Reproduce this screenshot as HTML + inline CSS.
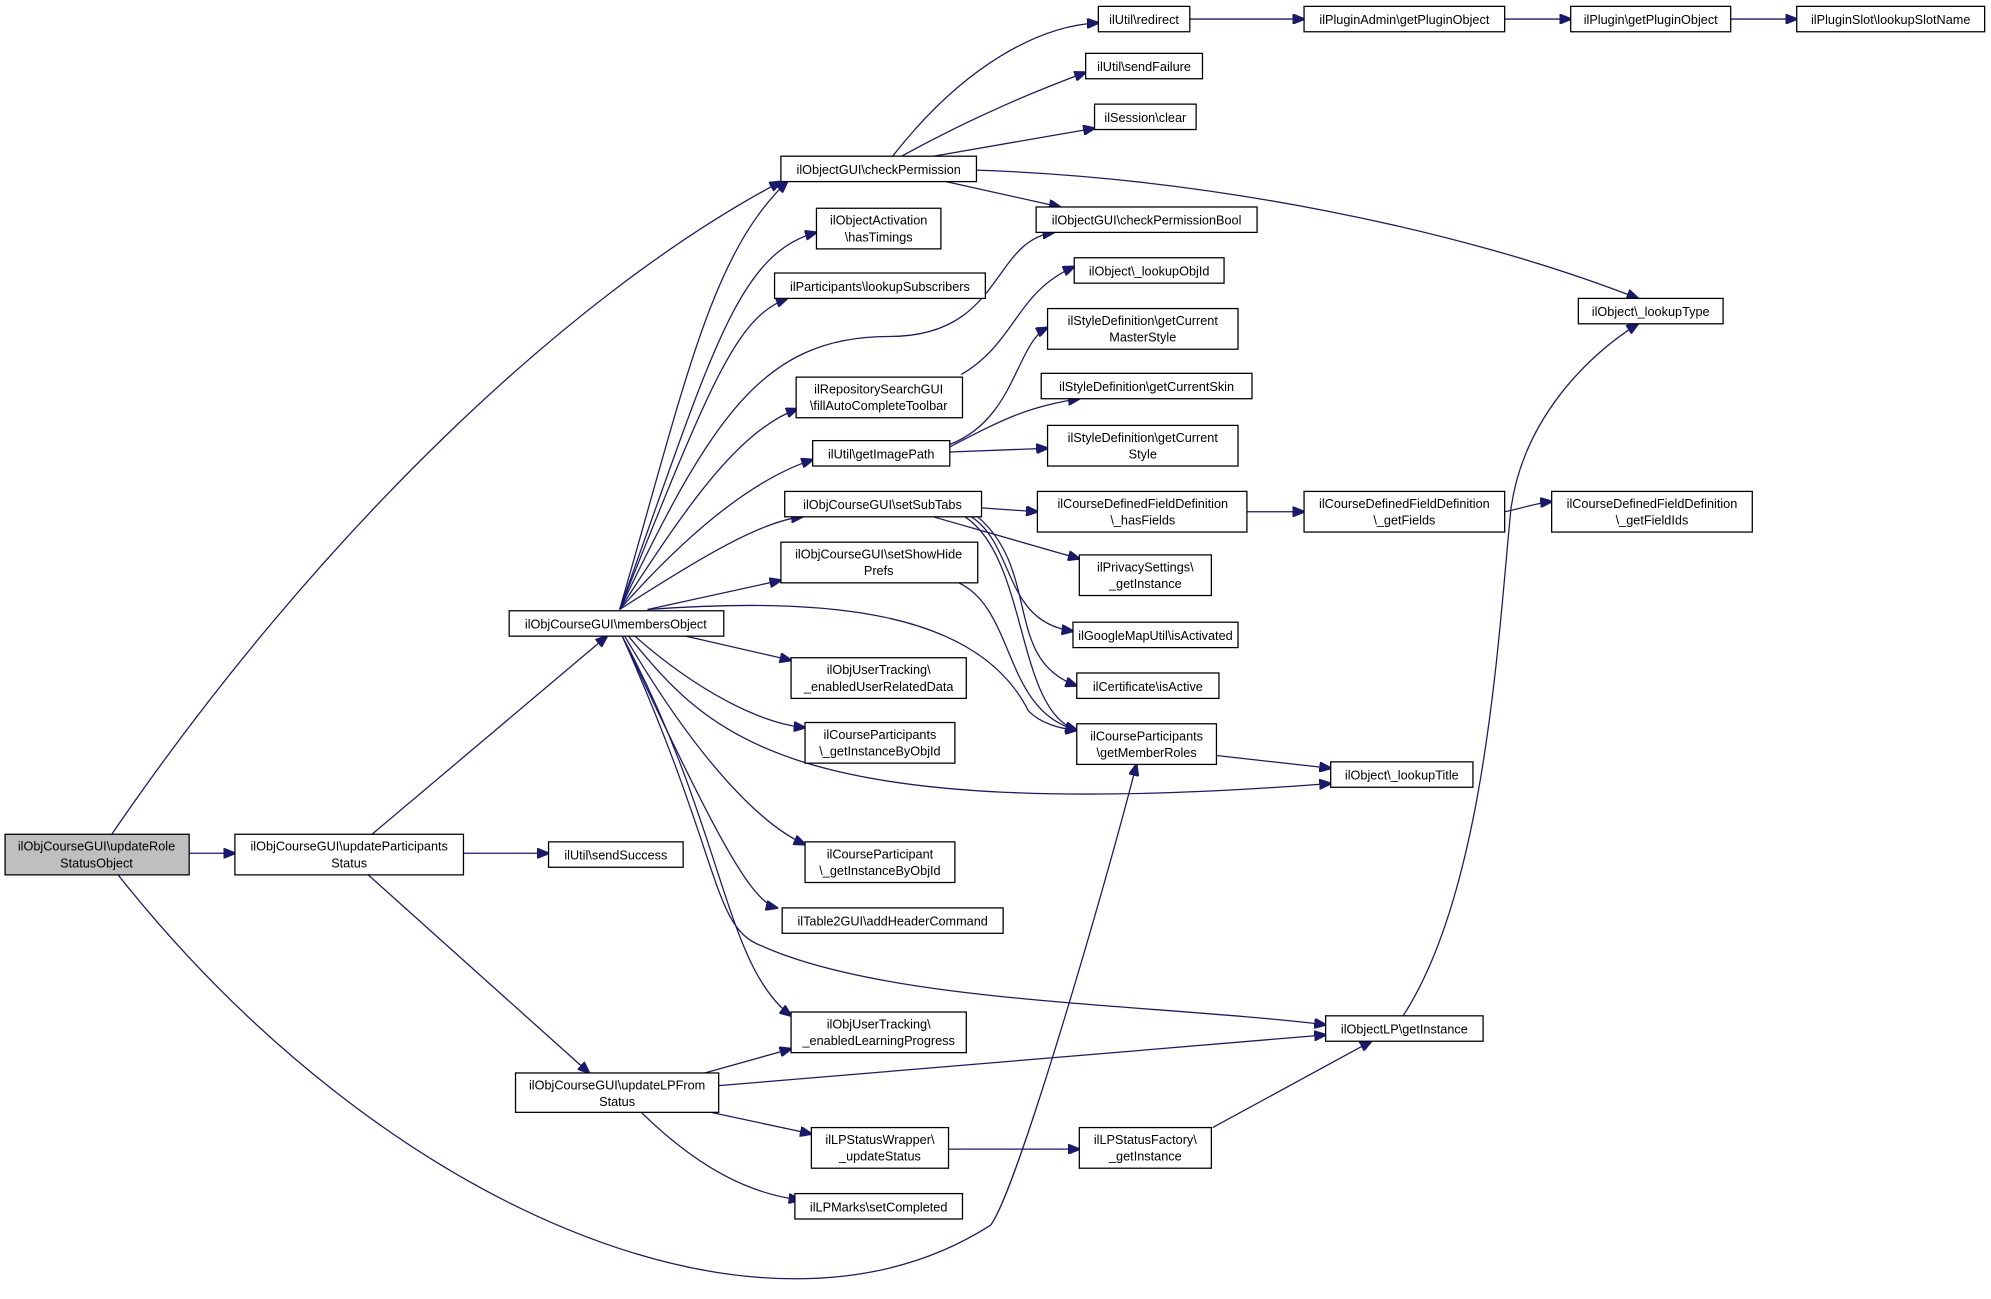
<!DOCTYPE html>
<html><head><meta charset="utf-8"><style>
html,body{margin:0;padding:0;background:#fff;}
svg{display:block;}
text{font-family:"Liberation Sans",Arial,sans-serif;font-size:10px;fill:#000;text-anchor:middle;}
rect{fill:#fff;stroke:#000;stroke-width:1;}
path{fill:none;stroke:#191970;stroke-width:1;}
</style></head><body>
<svg width="1991" height="1299" viewBox="0 0 1568 1023" xmlns="http://www.w3.org/2000/svg">
<defs><marker id="a" markerWidth="10" markerHeight="8" refX="9" refY="4" orient="auto" markerUnits="userSpaceOnUse"><path d="M0,0 L10,4 L0,8 z" style="fill:#191970;stroke:#191970"/></marker></defs>
<g marker-end="url(#a)">
<path d="M149,672 L185,672"/>
<path d="M88,657 C250,420 450,230 615,143"/>
<path d="M93,689 C300,950 600,1080 780,965 C800,940 870,700 895,602"/>
<path d="M293,657 L478,501"/>
<path d="M365,672 L432,672"/>
<path d="M290,689 L464,845"/>
<path d="M488,480 C540,300 560,200 620,143"/>
<path d="M488,480 C560,280 580,200 643,183"/>
<path d="M488,480 C560,300 580,250 620,235"/>
<path d="M488,480 C560,330 600,265 700,265 C790,265 780,190 830,183"/>
<path d="M488,480 C540,400 580,340 628,322"/>
<path d="M488,480 C550,410 600,375 640,362"/>
<path d="M488,480 C550,440 600,410 632,407"/>
<path d="M510,480 L615,457"/>
<path d="M510,480 C650,470 770,480 810,560 C820,570 835,574 848,575"/>
<path d="M540,501 L623,520"/>
<path d="M500,501 C550,545 600,570 634,573"/>
<path d="M495,501 C560,580 620,650 1048,617"/>
<path d="M492,501 C550,600 600,650 634,665"/>
<path d="M490,501 C560,650 590,710 612,715"/>
<path d="M490,501 C570,650 570,760 623,800"/>
<path d="M490,501 C570,680 560,730 600,745 C700,790 900,790 1044,807"/>
<path d="M555,845 L623,826"/>
<path d="M566,855 L1044,815"/>
<path d="M560,876 L639,893"/>
<path d="M505,876 C550,920 590,940 630,945"/>
<path d="M747,905 L850,905"/>
<path d="M955,888 L1080,820"/>
<path d="M1105,800 C1170,700 1180,500 1190,400 C1200,330 1250,280 1290,255"/>
<path d="M703,123 C760,50 820,20 865,18"/>
<path d="M710,123 C770,90 820,70 855,57"/>
<path d="M735,123 L862,101"/>
<path d="M745,143 L835,163"/>
<path d="M769,134 C950,140 1150,180 1290,235"/>
<path d="M937,15 L1027,15"/>
<path d="M1185,15 L1237,15"/>
<path d="M1363,15 L1415,15"/>
<path d="M757,295 C800,270 800,230 846,210"/>
<path d="M748,350 C800,330 800,270 825,258"/>
<path d="M748,352 C790,330 810,320 850,314"/>
<path d="M748,356 L825,353"/>
<path d="M773,400 L817,403"/>
<path d="M735,407 L850,440"/>
<path d="M765,407 C800,430 790,490 845,497"/>
<path d="M770,407 C820,450 790,520 848,540"/>
<path d="M760,407 C810,440 800,560 848,575"/>
<path d="M755,459 C800,480 790,560 848,575"/>
<path d="M982,403 L1027,403"/>
<path d="M1185,403 C1200,400 1210,396 1222,395"/>
<path d="M958,595 L1048,605"/>
</g>
<rect x="4" y="657" width="145" height="32" style="fill:#bfbfbf"/><text x="76" y="670">ilObjCourseGUI\updateRole</text><text x="76" y="683">StatusObject</text>
<rect x="185" y="657" width="180" height="32"/><text x="275" y="670">ilObjCourseGUI\updateParticipants</text><text x="275" y="683">Status</text>
<rect x="432" y="663" width="106" height="20"/><text x="485" y="677">ilUtil\sendSuccess</text>
<rect x="406" y="845" width="160" height="31"/><text x="486" y="858">ilObjCourseGUI\updateLPFrom</text><text x="486" y="871">Status</text>
<rect x="401" y="481" width="169" height="20"/><text x="485" y="495">ilObjCourseGUI\membersObject</text>
<rect x="615" y="123" width="154" height="20"/><text x="692" y="137">ilObjectGUI\checkPermission</text>
<rect x="643" y="164" width="98" height="32"/><text x="692" y="177">ilObjectActivation</text><text x="692" y="190">\hasTimings</text>
<rect x="610" y="215" width="166" height="20"/><text x="693" y="229">ilParticipants\lookupSubscribers</text>
<rect x="627" y="297" width="131" height="32"/><text x="692" y="310">ilRepositorySearchGUI</text><text x="692" y="323">\fillAutoCompleteToolbar</text>
<rect x="640" y="347" width="108" height="20"/><text x="694" y="361">ilUtil\getImagePath</text>
<rect x="618" y="387" width="155" height="20"/><text x="695" y="401">ilObjCourseGUI\setSubTabs</text>
<rect x="615" y="427" width="155" height="32"/><text x="692" y="440">ilObjCourseGUI\setShowHide</text><text x="692" y="453">Prefs</text>
<rect x="623" y="518" width="138" height="32"/><text x="692" y="531">ilObjUserTracking\</text><text x="692" y="544">_enabledUserRelatedData</text>
<rect x="634" y="569" width="118" height="32"/><text x="693" y="582">ilCourseParticipants</text><text x="693" y="595">\_getInstanceByObjId</text>
<rect x="634" y="663" width="118" height="32"/><text x="693" y="676">ilCourseParticipant</text><text x="693" y="689">\_getInstanceByObjId</text>
<rect x="616" y="715" width="174" height="20"/><text x="703" y="729">ilTable2GUI\addHeaderCommand</text>
<rect x="623" y="797" width="138" height="32"/><text x="692" y="810">ilObjUserTracking\</text><text x="692" y="823">_enabledLearningProgress</text>
<rect x="639" y="888" width="108" height="32"/><text x="693" y="901">ilLPStatusWrapper\</text><text x="693" y="914">_updateStatus</text>
<rect x="626" y="940" width="132" height="20"/><text x="692" y="954">ilLPMarks\setCompleted</text>
<rect x="865" y="5" width="72" height="20"/><text x="901" y="19">ilUtil\redirect</text>
<rect x="855" y="42" width="92" height="20"/><text x="901" y="56">ilUtil\sendFailure</text>
<rect x="862" y="82" width="80" height="20"/><text x="902" y="96">ilSession\clear</text>
<rect x="816" y="163" width="174" height="20"/><text x="903" y="177">ilObjectGUI\checkPermissionBool</text>
<rect x="846" y="203" width="118" height="20"/><text x="905" y="217">ilObject\_lookupObjId</text>
<rect x="825" y="243" width="150" height="32"/><text x="900" y="256">ilStyleDefinition\getCurrent</text><text x="900" y="269">MasterStyle</text>
<rect x="820" y="294" width="166" height="20"/><text x="903" y="308">ilStyleDefinition\getCurrentSkin</text>
<rect x="825" y="335" width="150" height="32"/><text x="900" y="348">ilStyleDefinition\getCurrent</text><text x="900" y="361">Style</text>
<rect x="817" y="387" width="165" height="32"/><text x="900" y="400">ilCourseDefinedFieldDefinition</text><text x="900" y="413">\_hasFields</text>
<rect x="850" y="437" width="104" height="32"/><text x="902" y="450">ilPrivacySettings\</text><text x="902" y="463">_getInstance</text>
<rect x="845" y="490" width="130" height="20"/><text x="910" y="504">ilGoogleMapUtil\isActivated</text>
<rect x="848" y="530" width="112" height="20"/><text x="904" y="544">ilCertificate\isActive</text>
<rect x="848" y="570" width="110" height="32"/><text x="903" y="583">ilCourseParticipants</text><text x="903" y="596">\getMemberRoles</text>
<rect x="850" y="888" width="104" height="32"/><text x="902" y="901">ilLPStatusFactory\</text><text x="902" y="914">_getInstance</text>
<rect x="1027" y="5" width="158" height="20"/><text x="1106" y="19">ilPluginAdmin\getPluginObject</text>
<rect x="1243" y="235" width="114" height="20"/><text x="1300" y="249">ilObject\_lookupType</text>
<rect x="1027" y="387" width="158" height="32"/><text x="1106" y="400">ilCourseDefinedFieldDefinition</text><text x="1106" y="413">\_getFields</text>
<rect x="1048" y="600" width="112" height="20"/><text x="1104" y="614">ilObject\_lookupTitle</text>
<rect x="1044" y="800" width="124" height="20"/><text x="1106" y="814">ilObjectLP\getInstance</text>
<rect x="1237" y="5" width="126" height="20"/><text x="1300" y="19">ilPlugin\getPluginObject</text>
<rect x="1222" y="387" width="158" height="32"/><text x="1301" y="400">ilCourseDefinedFieldDefinition</text><text x="1301" y="413">\_getFieldIds</text>
<rect x="1415" y="5" width="148" height="20"/><text x="1489" y="19">ilPluginSlot\lookupSlotName</text>
</svg>
</body></html>
